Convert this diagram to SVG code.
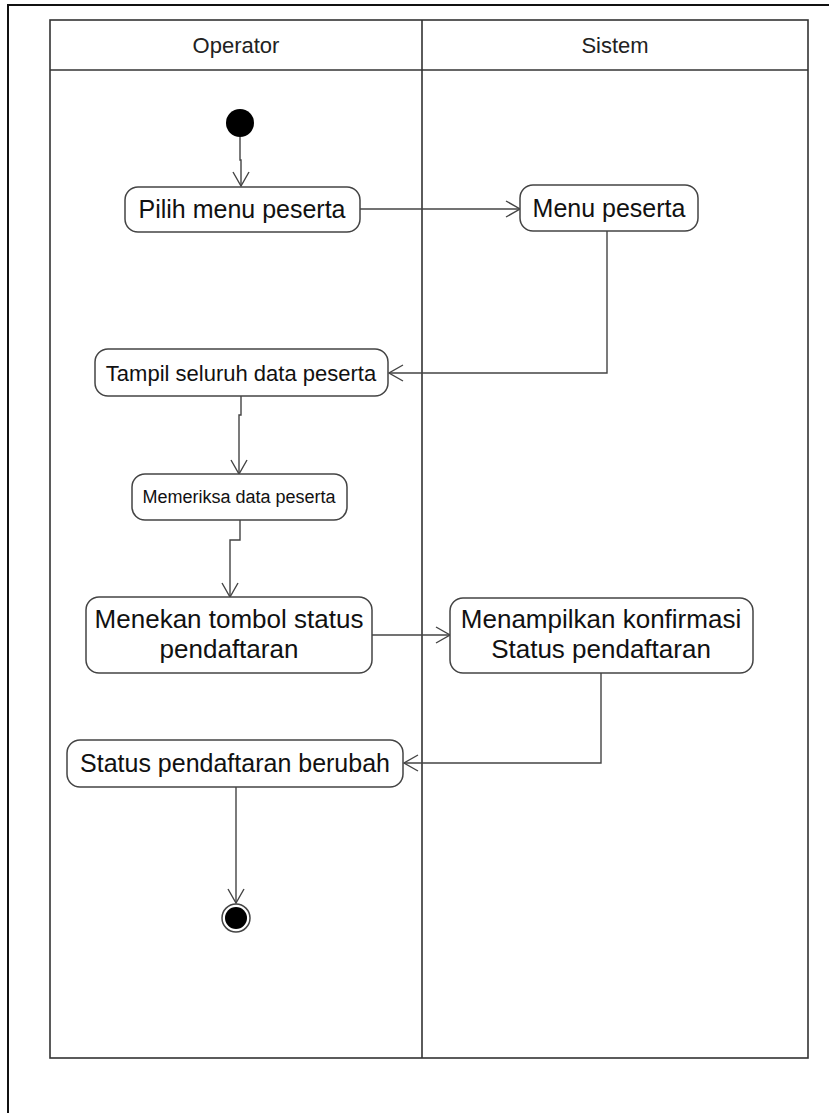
<svg xmlns="http://www.w3.org/2000/svg" width="829" height="1113" viewBox="0 0 829 1113">
  <style>
    .frame { fill: none; stroke: #111; stroke-width: 2; }
    .lane { fill: none; stroke: #333; stroke-width: 1.6; }
    .act { fill: #fff; stroke: #444; stroke-width: 1.5; }
    .lbl { font-family: "Liberation Sans", Arial, sans-serif; fill: #111; text-anchor: middle; }
    .hdr { font-family: "Liberation Sans", Arial, sans-serif; font-size: 22px; fill: #222; text-anchor: middle; }
    .flow { fill: none; stroke: #444; stroke-width: 1.4; }
  </style>
  <defs>
    <marker id="open" viewBox="0 0 16 18" refX="15" refY="9" markerWidth="16" markerHeight="18" markerUnits="userSpaceOnUse" orient="auto">
      <path d="M1,1 L15,9 L1,17" fill="none" stroke="#444" stroke-width="1.4"/>
    </marker>
  </defs>
  <rect width="829" height="1113" fill="#fff"/>

  <!-- outer page frame -->
  <path class="frame" d="M829,5 H8 V1113"/>

  <!-- swimlanes -->
  <g id="lanes">
    <rect class="lane" x="50" y="20" width="758" height="1038"/>
    <line class="lane" x1="50" y1="70" x2="808" y2="70"/>
    <line class="lane" x1="422" y1="20" x2="422" y2="1058"/>
    <text class="hdr" x="236" y="53">Operator</text>
    <text class="hdr" x="615" y="53">Sistem</text>
  </g>

  <!-- control flows -->
  <g id="connectors">
    <path class="flow" d="M240,137 V160 H241 V186" marker-end="url(#open)"/>
    <path class="flow" d="M360,209 H520" marker-end="url(#open)"/>
    <path class="flow" d="M607,231 V373 H389" marker-end="url(#open)"/>
    <path class="flow" d="M241,396 V415 H239 V474" marker-end="url(#open)"/>
    <path class="flow" d="M240,520 V540 H230 V597" marker-end="url(#open)"/>
    <path class="flow" d="M372,635 H450" marker-end="url(#open)"/>
    <path class="flow" d="M601,673 V763 H404" marker-end="url(#open)"/>
    <path class="flow" d="M236,787 V903" marker-end="url(#open)"/>
  </g>

  <g id="start">
    <circle cx="240" cy="123" r="14" fill="#000"/>
  </g>

  <g id="pilih-menu">
    <rect class="act" x="125" y="187" width="235" height="45" rx="13"/>
    <text class="lbl" x="242" y="218" font-size="25">Pilih menu peserta</text>
  </g>

  <g id="menu-peserta">
    <rect class="act" x="520" y="185" width="178" height="46" rx="13"/>
    <text class="lbl" x="609" y="217" font-size="25">Menu peserta</text>
  </g>

  <g id="tampil-data">
    <rect class="act" x="95" y="349" width="293" height="47" rx="13"/>
    <text class="lbl" x="241" y="381" font-size="22">Tampil seluruh data peserta</text>
  </g>

  <g id="memeriksa-data">
    <rect class="act" x="132" y="474" width="215" height="46" rx="13"/>
    <text class="lbl" x="239" y="503" font-size="18">Memeriksa data peserta</text>
  </g>

  <g id="menekan-tombol">
    <rect class="act" x="86" y="597" width="286" height="76" rx="13"/>
    <text class="lbl" x="229" y="628" font-size="26">Menekan tombol status</text>
    <text class="lbl" x="229" y="658" font-size="26">pendaftaran</text>
  </g>

  <g id="menampilkan-konfirmasi">
    <rect class="act" x="450" y="598" width="303" height="75" rx="13"/>
    <text class="lbl" x="601" y="628" font-size="26">Menampilkan konfirmasi</text>
    <text class="lbl" x="601" y="658" font-size="26">Status pendaftaran</text>
  </g>

  <g id="status-berubah">
    <rect class="act" x="67" y="740" width="336" height="47" rx="13"/>
    <text class="lbl" x="235" y="772" font-size="25">Status pendaftaran berubah</text>
  </g>

  <g id="end">
    <circle cx="236" cy="918" r="14" fill="#fff" stroke="#444" stroke-width="1.5"/>
    <circle cx="236" cy="918" r="11" fill="#000"/>
  </g>
</svg>
